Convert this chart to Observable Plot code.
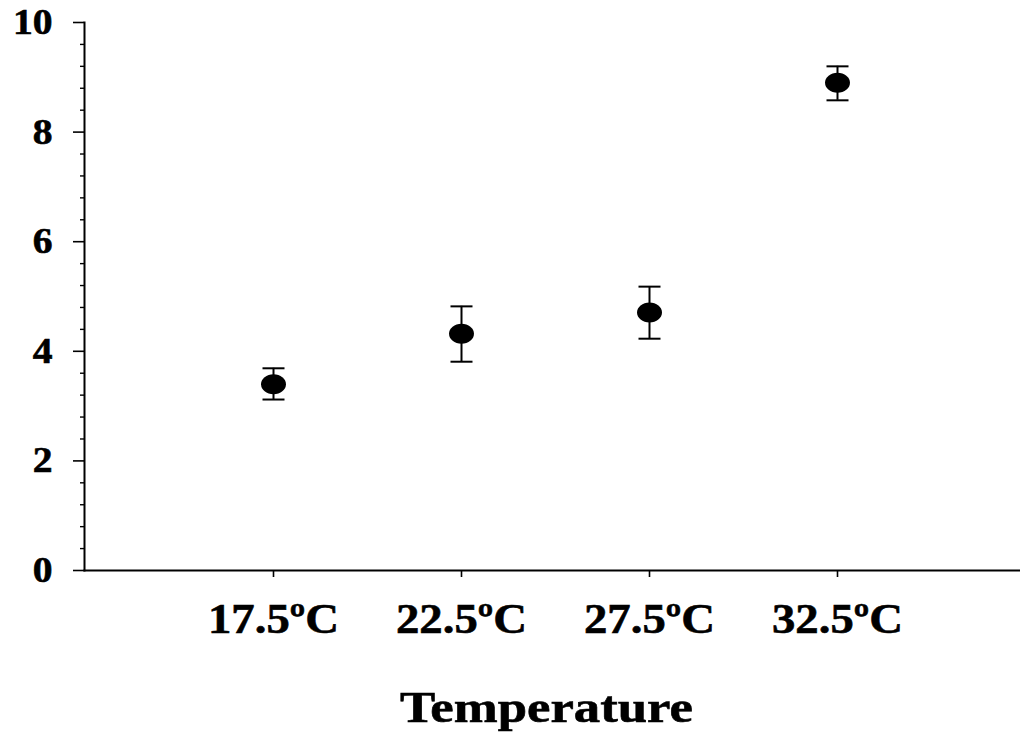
<!DOCTYPE html>
<html>
<head>
<meta charset="utf-8">
<script src="https://cdn.jsdelivr.net/npm/d3@7"></script>
<script src="https://cdn.jsdelivr.net/npm/@observablehq/plot@0.6"></script>
<style>
  html, body { margin: 0; padding: 0; background: white; }
</style>
</head>
<body>
<script>
const temps = ["17.5ºC", "22.5ºC", "27.5ºC", "32.5ºC"];
const means = [3.4, 4.32, 4.71, 8.9];
const lows = [3.12, 3.81, 4.23, 8.58];
const highs = [3.69, 4.82, 5.18, 9.2];
const majorTicks = [0, 2, 4, 6, 8, 10];
const minorTicks = [0.4, 0.8, 1.2, 1.6, 2.4, 2.8, 3.2, 3.6, 4.4, 4.8, 5.2, 5.6, 6.4, 6.8, 7.2, 7.6, 8.4, 8.8, 9.2, 9.6];
const xTitle = "Temperature";

const data = temps.map((t, i) => ({t, m: means[i], lo: lows[i], hi: highs[i]}));

const ellipse = {
  draw(ctx) {
    const rx = 12.5, ry = 10, k = 0.5523;
    ctx.moveTo(rx, 0);
    ctx.bezierCurveTo(rx, ry * k, rx * k, ry, 0, ry);
    ctx.bezierCurveTo(-rx * k, ry, -rx, ry * k, -rx, 0);
    ctx.bezierCurveTo(-rx, -ry * k, -rx * k, -ry, 0, -ry);
    ctx.bezierCurveTo(rx * k, -ry, rx, -ry * k, rx, 0);
    ctx.closePath();
  }
};
const cap = {
  draw(ctx) {
    ctx.moveTo(-11, 0);
    ctx.lineTo(11, 0);
  }
};

const chart = Plot.plot({
  width: 1020,
  height: 733,
  marginLeft: 84,
  marginRight: 0,
  marginTop: 22,
  marginBottom: 163,
  style: {fontFamily: "'Liberation Serif', 'Times New Roman', serif", background: "white", color: "black"},
  x: {type: "point", domain: temps, range: [272, 838], padding: 0, label: null},
  y: {domain: [0, 10], label: null},
  marks: [
    Plot.frame({anchor: "left", stroke: "black", strokeWidth: 2}),
    Plot.frame({anchor: "bottom", stroke: "black", strokeWidth: 2}),
    Plot.axisY({ticks: majorTicks, tickSize: 11, tickPadding: 21, fontSize: 36, fontWeight: "bold", strokeWidth: 1.6, label: null}),
    Plot.axisY({ticks: minorTicks, tickSize: 4, tickPadding: 0, tickFormat: () => "", strokeWidth: 1.4, label: null}),
    Plot.axisX({tickSize: 7, tickPadding: 25, fontSize: 43, fontWeight: "bold", strokeWidth: 1.6, label: null}),
    Plot.ruleX(data, {x: "t", y1: "lo", y2: "hi", stroke: "black", strokeWidth: 2}),
    Plot.dot(data, {x: "t", y: "hi", symbol: cap, stroke: "black", fill: "none", strokeWidth: 2}),
    Plot.dot(data, {x: "t", y: "lo", symbol: cap, stroke: "black", fill: "none", strokeWidth: 2}),
    Plot.dot(data, {x: "t", y: "m", symbol: ellipse, fill: "black", stroke: "none"}),
    Plot.text([xTitle], {frameAnchor: "bottom", lineAnchor: "bottom", dx: -6, dy: 151, fontSize: 45, fontWeight: "bold", fill: "black"})
  ]
});
document.body.append(chart);

// widen glyphs to match the reference's horizontally stretched lettering
function stretch(t, len) {
  t.setAttribute("textLength", len);
  t.setAttribute("lengthAdjust", "spacingAndGlyphs");
  t.setAttribute("stroke", "black");
  t.setAttribute("stroke-width", 0.6);
}
chart.querySelectorAll('g[aria-label="x-axis tick label"] text').forEach(t => stretch(t, 131));
chart.querySelectorAll('g[aria-label="y-axis tick label"] text').forEach(t => {
  if (!t.textContent) return;
  stretch(t, t.getComputedTextLength() * 1.1);
});
chart.querySelectorAll('g[aria-label="text"] text').forEach(t => stretch(t, 293));
</script>
</body>
</html>
